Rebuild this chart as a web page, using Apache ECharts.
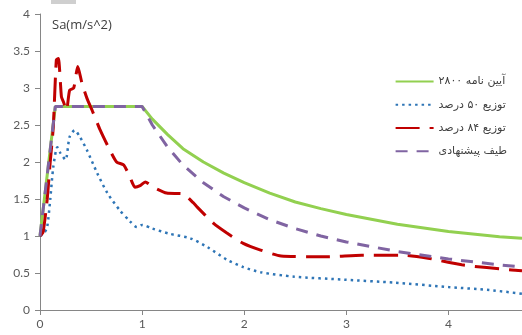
<!DOCTYPE html>
<html><head><meta charset="utf-8">
<script src="https://cdn.jsdelivr.net/npm/echarts@6/dist/echarts.min.js"></script>
<style>html,body{margin:0;padding:0;background:#fff}#c{width:522px;height:335px}</style>
</head><body><div id="c"></div>
<script>
// Tick labels / axis
var yTicks = [0, 0.5, 1, 1.5, 2, 2.5, 3, 3.5, 4];
var xTicks = [0, 1, 2, 3, 4];
var names = ['آیین نامه ۲۸۰۰', 'توزیع ۵۰ درصد', 'توزیع ۸۴ درصد', 'طیف پیشنهادی'];

// Code 2800 spectrum
var codeT  = [0, 0.15, 1.0, 1.1, 1.25, 1.4, 1.6, 1.8, 2.0, 2.25, 2.5, 2.75, 3.0, 3.5, 4.0, 4.5, 4.72];
var codeSa = [1.0, 2.75, 2.75, 2.58, 2.37, 2.18, 2.0, 1.85, 1.72, 1.58, 1.46, 1.37, 1.29, 1.16, 1.06, 0.99, 0.97];

// 50% distribution
var p50T  = [0, 0.04, 0.07, 0.1, 0.13, 0.17, 0.2, 0.25, 0.29, 0.34, 0.39, 0.46, 0.56, 0.66, 0.78, 0.88, 0.95, 1.0, 1.1, 1.27, 1.47, 1.64, 1.83, 1.99, 2.16, 2.49, 2.98, 3.47, 4.0, 4.4, 4.72];
var p50Sa = [1.0, 1.04, 1.12, 1.49, 1.93, 2.2, 2.12, 2.03, 2.34, 2.43, 2.34, 2.16, 1.85, 1.58, 1.35, 1.2, 1.12, 1.15, 1.1, 1.03, 0.97, 0.85, 0.68, 0.58, 0.51, 0.45, 0.41, 0.37, 0.31, 0.27, 0.22];

// 84% distribution
var p84T  = [0, 0.03, 0.07, 0.1, 0.13, 0.16, 0.18, 0.21, 0.23, 0.26, 0.29, 0.33, 0.37, 0.41, 0.46, 0.51, 0.59, 0.67, 0.75, 0.82, 0.88, 0.93, 0.98, 1.03, 1.11, 1.24, 1.4, 1.5, 1.54, 1.7, 1.83, 1.99, 2.16, 2.36, 2.82, 3.15, 3.57, 3.8, 4.13, 4.62, 4.72];
var p84Sa = [1.0, 1.05, 1.49, 2.0, 2.47, 3.38, 3.4, 2.88, 2.81, 2.7, 2.97, 3.0, 3.29, 3.07, 2.86, 2.7, 2.43, 2.2, 2.0, 1.96, 1.8, 1.66, 1.68, 1.73, 1.66, 1.58, 1.57, 1.45, 1.39, 1.17, 1.04, 0.9, 0.81, 0.73, 0.72, 0.74, 0.74, 0.7, 0.61, 0.54, 0.53];

// Proposed spectrum
var propT  = [0, 0.15, 1.0, 1.1, 1.25, 1.4, 1.6, 1.8, 2.0, 2.25, 2.5, 2.75, 3.0, 3.5, 4.0, 4.5, 4.72];
var propSa = [1.0, 2.75, 2.75, 2.5, 2.2, 1.96, 1.72, 1.53, 1.38, 1.22, 1.1, 1.0, 0.92, 0.79, 0.69, 0.61, 0.58];

function pairs(t, v) { return t.map(function (x, i) { return [x, v[i]]; }); }

var chart = echarts.init(document.getElementById('c'));
var axisCol = '#868686';
var labelStyle = { color: '#595959', fontFamily: 'Lato', fontSize: 12 };
chart.setOption({
  animation: false,
  backgroundColor: '#fff',
  grid: { left: 40, right: 0, top: 14, bottom: 25, containLabel: false },
  graphic: [
    { type: 'rect', shape: { x: 51, y: 0, width: 25, height: 4 }, style: { fill: '#cfcfcf' } },
    { type: 'text', left: 52, top: 19, style: { text: 'Sa(m/s^2)', fill: '#404040', font: '13px "Open Sans"' } }
  ],
  legend: {
    orient: 'vertical', right: 10, top: 71, itemGap: 12, itemWidth: 38, itemHeight: 14,
    itemStyle: { opacity: 0 },
    textStyle: { fontFamily: 'DejaVu Sans', fontSize: 11, color: '#404040', width: 72, align: 'right' },
    data: names
  },
  xAxis: {
    type: 'value', min: 0, max: 4.72, interval: 1,
    axisLine: { lineStyle: { color: axisCol } },
    axisTick: { show: true, length: 5, lineStyle: { color: axisCol } },
    axisLabel: Object.assign({ margin: 8, showMaxLabel: false }, labelStyle),
    splitLine: { show: false }
  },
  yAxis: {
    type: 'value', min: 0, max: 4, interval: 0.5,
    axisLine: { show: true, lineStyle: { color: axisCol } },
    axisTick: { show: true, length: 5, lineStyle: { color: axisCol } },
    axisLabel: Object.assign({ margin: 10 }, labelStyle),
    splitLine: { show: false }
  },
  series: [
    { name: names[0], type: 'line', data: pairs(codeT, codeSa), symbol: 'none', smooth: false, z: 2,
      lineStyle: { color: '#92D050', width: 3 }, itemStyle: { color: '#92D050' } },
    { name: names[1], type: 'line', data: pairs(p50T, p50Sa), symbol: 'none', smooth: 0.25, z: 3,
      lineStyle: { color: '#2E75B6', width: 2.5, type: [2.5, 4] }, itemStyle: { color: '#2E75B6' } },
    { name: names[2], type: 'line', data: pairs(p84T, p84Sa), symbol: 'none', smooth: 0.2, z: 4,
      lineStyle: { color: '#C00000', width: 3, type: [24, 10] }, itemStyle: { color: '#C00000' } },
    { name: names[3], type: 'line', data: pairs(propT, propSa), symbol: 'none', smooth: false, z: 5,
      lineStyle: { color: '#8064A2', width: 3, type: [12, 9] }, itemStyle: { color: '#8064A2' } }
  ]
});
</script></body></html>
